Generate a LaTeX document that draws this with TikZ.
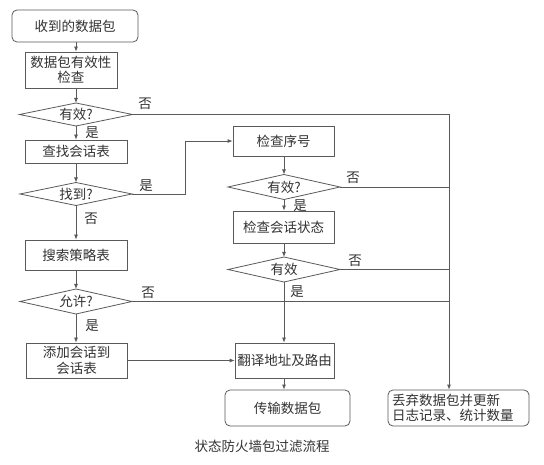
\documentclass[tikz,border=0pt]{standalone}
\usepackage{fontspec}
\setmainfont{Noto Sans CJK SC}
\usetikzlibrary{shapes.geometric,arrows.meta}
\definecolor{linec}{HTML}{5A5A5A}
\definecolor{textc}{HTML}{333333}
\newcommand{\dtext}[1]{\smash{\makebox[0pt]{\raisebox{-0.38em}{#1}}}}
\begin{document}
\begin{tikzpicture}[x=1pt,y=-1pt,
  every node/.style={text=textc},
  box/.style={draw=linec, line width=0.8pt, inner sep=1pt, align=center,
    font=\fontsize{13.5}{15.5}\selectfont},
  rbox/.style={box, rounded corners=5pt},
  dec/.style={diamond, draw=linec, line width=0.8pt, inner sep=0pt, outer sep=0pt,
    font=\fontsize{13.5}{15.5}\selectfont},
  lbl/.style={font=\fontsize{13.5}{15.5}\selectfont, inner sep=0pt},
  arr/.style={draw=linec, line width=0.8pt, -{Latex[length=5pt,width=4pt]}},
  ln/.style={draw=linec, line width=0.8pt}]
\useasboundingbox (0,0) rectangle (544,465);
\fill[white] (0,0) rectangle (544,465);

\coordinate (colL) at (76,0);
\coordinate (colR) at (284,0);
\coordinate (colD) at (449,0);

% left column
\node[rbox, minimum width=126pt, minimum height=32pt] (n1) at (75,26) {收到的数据包};
\node[box, minimum width=92pt, minimum height=36pt] (n2) at (71,70) {数据包有效性\\检查};
\node[dec, minimum width=113pt, minimum height=23pt] (d1) at (76,114.5) {\dtext{有效?}};
\node[box, minimum width=102pt, minimum height=23pt] (n3) at (76,151.5) {查找会话表};
\node[dec, minimum width=112pt, minimum height=23pt] (d2) at (76,194) {\dtext{找到?}};
\node[box, minimum width=102pt, minimum height=30pt] (n10) at (76,255) {搜索策略表};
\node[dec, minimum width=112pt, minimum height=25pt] (d5) at (76,301.5) {\dtext{允许?}};
\node[box, minimum width=101pt, minimum height=35pt] (n12) at (76.5,360.5) {添加会话到\\会话表};

% right column
\node[box, minimum width=101pt, minimum height=30pt] (n6) at (283.5,141) {检查序号};
\node[dec, minimum width=112pt, minimum height=25pt] (d3) at (284,187) {\dtext{有效?}};
\node[box, minimum width=101pt, minimum height=32pt] (n8) at (283.5,227) {检查会话状态};
\node[dec, minimum width=112pt, minimum height=25pt] (d4) at (284,269.5) {\dtext{有效}};
\node[box, minimum width=99pt, minimum height=35pt] (n13) at (284.5,360.5) {翻译地址及路由};
\node[rbox, minimum width=125pt, minimum height=36pt] (n14) at (287.5,408) {传输数据包};
\node[rbox, minimum width=141pt, minimum height=36pt, align=left, text width=133pt,
  font=\fontsize{13.5}{15}\selectfont] (n15) at (458.5,408) {丢弃数据包并更新\\日志记录、统计数量};

\node[lbl] (cap) at (262,446) {状态防火墙包过滤流程};

% labels
\node[lbl] (l1) at (145,104) {否};
\node[lbl] (l2) at (92,133) {是};
\node[lbl] (l3) at (146,186) {是};
\node[lbl] (l4) at (91,219) {否};
\node[lbl] (l5) at (353,178) {否};
\node[lbl] (l6) at (300,206) {是};
\node[lbl] (l7) at (355,261) {否};
\node[lbl] (l8) at (297,292) {是};
\node[lbl] (l9) at (148,293) {否};
\node[lbl] (l10) at (92,326) {是};

% connectors left column
\draw[arr] (n1.south -| colL) -- (n2.north -| colL);
\draw[arr] (n2.south -| colL) -- (d1.north);
\draw[arr] (d1.south) -- (n3.north -| colL);
\draw[arr] (n3.south -| colL) -- (d2.north);
\draw[arr] (d2.south) -- (n10.north -| colL);
\draw[arr] (n10.south -| colL) -- (d5.north);
\draw[arr] (d5.south) -- (n12.north -| colL);
\draw[arr] (n12.east) -- (n13.west);

% found -> check sequence
\coordinate (b1) at (185,194);
\coordinate (b2) at (185,141);
\draw[arr] (d2.east) -- (b1) -- (b2) -- (n6.west);

% right column
\draw[arr] (n6.south -| colR) -- (d3.north);
\draw[arr] (d3.south) -- (n8.north -| colR);
\draw[arr] (n8.south -| colR) -- (d4.north);
\draw[arr] (d4.south) -- (n13.north -| colR);
\draw[arr] (n13.south -| colR) -- (n14.north -| colR);

% discard path
\draw[ln] (d1.east) -- (d1.east -| colD);
\draw[arr] (d1.east -| colD) -- (n15.north -| colD);
\draw[ln] (d3.east) -- (d3.east -| colD);
\draw[ln] (d4.east) -- (d4.east -| colD);
\draw[ln] (d5.east) -- (d5.east -| colD);
\end{tikzpicture}
\end{document}
